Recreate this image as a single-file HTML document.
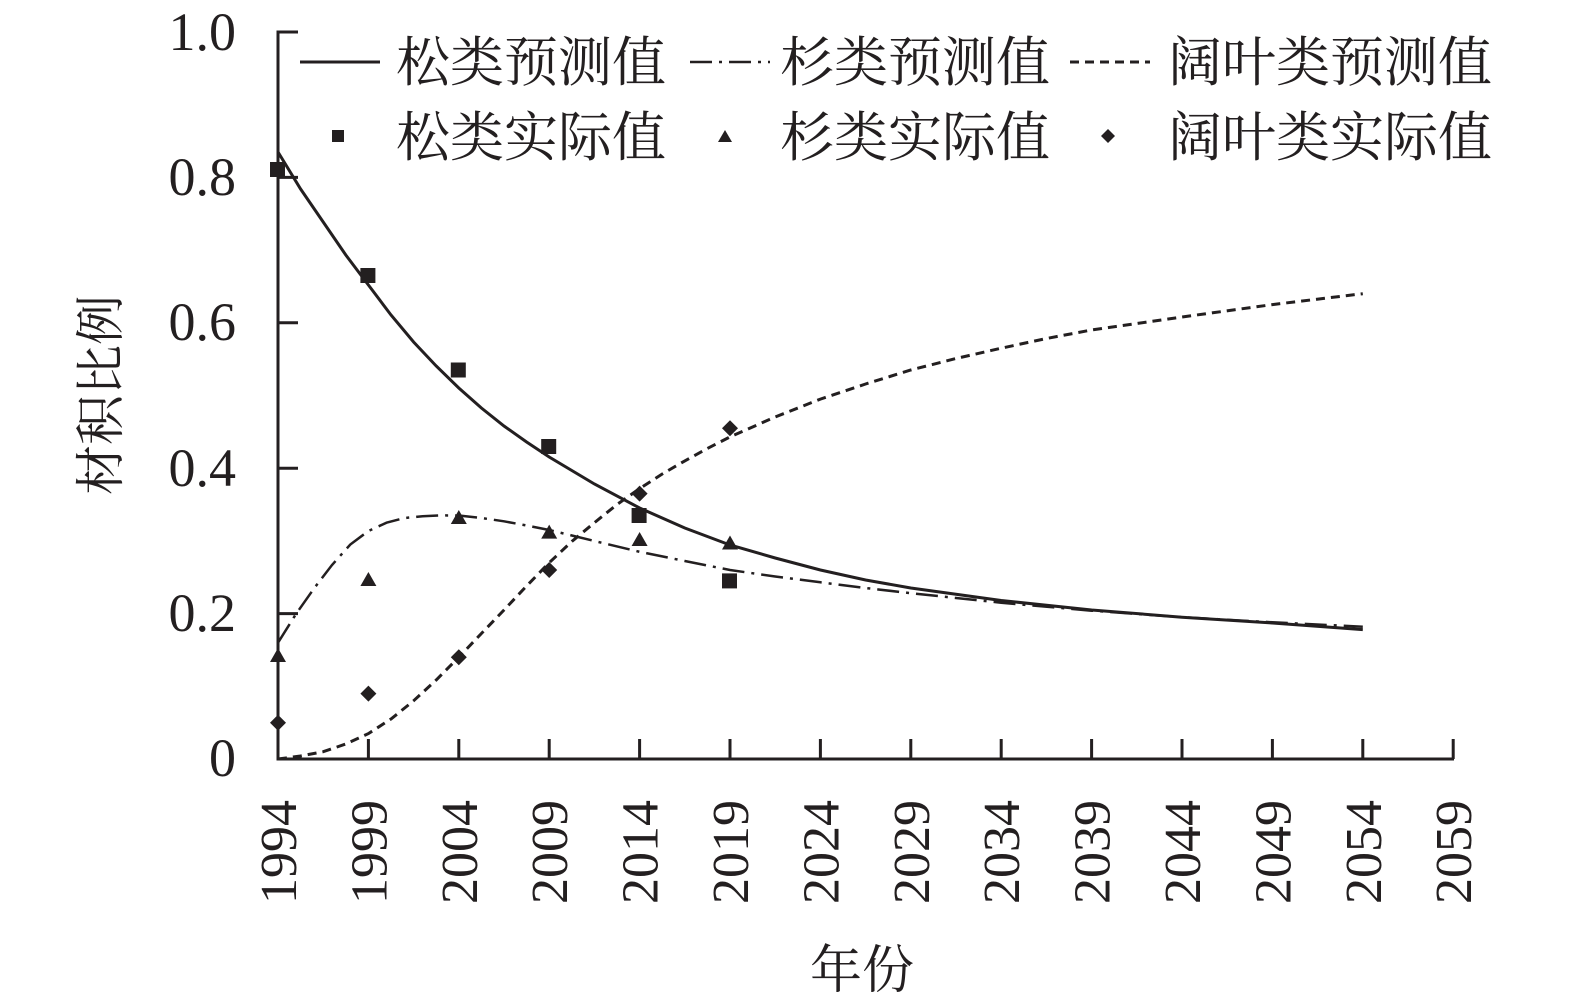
<!DOCTYPE html>
<html><head><meta charset="utf-8"><style>
html,body{margin:0;padding:0;background:#fff;}
text{font-family:"Noto Serif CJK SC",serif;fill:#231f20;}
text.n, .n text{font-family:"Liberation Serif",serif;}
</style></head><body>
<svg width="1575" height="1003" viewBox="0 0 1575 1003" xmlns="http://www.w3.org/2000/svg">
<g stroke="#231f20" stroke-width="3" fill="none">
<path d="M298,32 H278 V759 H1454"/>
<path d="M278,613.6 H298 M278,468.2 H298 M278,322.8 H298 M278,177.4 H298"/>
<path d="M368.4,759 V739 M458.8,759 V739 M549.2,759 V739 M639.6,759 V739 M730,759 V739 M820.4,759 V739 M910.8,759 V739 M1001.2,759 V739 M1091.6,759 V739 M1182,759 V739 M1272.4,759 V739 M1362.8,759 V739 M1453.2,759 V739"/>
</g>
<g class="n" font-size="54" text-anchor="end">
<text x="236" y="50">1.0</text><text x="236" y="195">0.8</text><text x="236" y="340">0.6</text><text x="236" y="486">0.4</text><text x="236" y="631">0.2</text><text x="236" y="776">0</text>
</g>
<g class="n" font-size="52" text-anchor="end">
<text transform="translate(296,800) rotate(-90)">1994</text>
<text transform="translate(386.4,800) rotate(-90)">1999</text>
<text transform="translate(476.8,800) rotate(-90)">2004</text>
<text transform="translate(567.2,800) rotate(-90)">2009</text>
<text transform="translate(657.6,800) rotate(-90)">2014</text>
<text transform="translate(748,800) rotate(-90)">2019</text>
<text transform="translate(838.4,800) rotate(-90)">2024</text>
<text transform="translate(928.8,800) rotate(-90)">2029</text>
<text transform="translate(1019.2,800) rotate(-90)">2034</text>
<text transform="translate(1109.6,800) rotate(-90)">2039</text>
<text transform="translate(1200,800) rotate(-90)">2044</text>
<text transform="translate(1290.4,800) rotate(-90)">2049</text>
<text transform="translate(1380.8,800) rotate(-90)">2054</text>
<text transform="translate(1471.2,800) rotate(-90)">2059</text>
</g>
<text x="862" y="988" font-size="52" text-anchor="middle">年份</text>
<text transform="translate(118,395) rotate(-90)" font-size="50" text-anchor="middle">材积比例</text>
<g fill="none" stroke="#231f20" stroke-width="3">
<polyline points="278,152 300.6,189 323.2,222 345.8,255 368.4,285 391,315 413.6,342 436.2,366 458.8,388 481.4,408 504,426 526.6,442 549.2,457 594.4,484 639.6,508 684.8,528 730,545 775.2,558 820.4,570 865.6,580 910.8,588 1001.2,600.5 1091.6,610 1182,617.2 1272.4,623 1362.8,629.6"/>
<polyline stroke-dasharray="22,7,3,7" stroke-width="2.5" points="278,642.7 296,614 314.2,588.2 332,565 350.3,544.5 368.4,531 386.5,522.7 404.5,518 422.6,516.2 440.7,515.4 458.8,515.5 481.4,518 504,521.3 526.6,525.5 549.2,530 594.4,541 639.6,551.8 684.8,561 730,570 775.2,576.5 820.4,582.3 865.6,588 910.8,593.2 1001.2,602.7 1091.6,610.7 1182,617.2 1272.4,622.3 1362.8,626.7"/>
<polyline stroke-dasharray="9,6" stroke-width="3" points="278,759 300.6,756 323.2,751.7 345.8,744 368.4,733.6 391,719 413.6,700.8 436.2,680 458.8,657.2 481.4,633.5 504,610 526.6,586 549.2,562.7 571.8,541.5 594.4,522.7 617,504.5 639.6,488.6 662.2,474 684.8,460.9 707.4,448.5 730,436.9 775.2,417 820.4,399.1 865.6,384 910.8,370 956,358.5 1001.2,348.2 1046.4,338.5 1091.6,330 1182,317 1272.4,304.6 1362.8,293.7"/>
<line x1="300" y1="62" x2="380" y2="62"/>
<line x1="690" y1="62" x2="770" y2="62" stroke-dasharray="22,7,3,7" stroke-width="2.5"/>
<line x1="1070" y1="62" x2="1150" y2="62" stroke-dasharray="9,6"/>
</g>
<g fill="#231f20">
<rect x="270" y="162" width="15" height="15"/><rect x="360.4" y="268" width="15" height="15"/><rect x="450.8" y="362.5" width="15" height="15"/><rect x="541.2" y="439" width="15" height="15"/><rect x="631.6" y="508" width="15" height="15"/><rect x="722" y="573.4" width="15" height="15"/>
<path d="M278,648 l8,14 h-16z M368.4,572 l8,14 h-16z M458.8,510 l8,14 h-16z M549.2,524.6 l8,14 h-16z M639.6,532 l8,14 h-16z M730,535.5 l8,14 h-16z"/>
<path d="M278,714.7 l8,8 l-8,8 l-8,-8z M368.4,685.6 l8,8 l-8,8 l-8,-8z M458.8,649.2 l8,8 l-8,8 l-8,-8z M549.2,562 l8,8 l-8,8 l-8,-8z M639.6,485.6 l8,8 l-8,8 l-8,-8z M730,420.2 l8,8 l-8,8 l-8,-8z"/>
<rect x="332" y="130" width="12" height="12"/>
<path d="M725,130 l7,12 h-14z"/>
<path d="M1108,129 l7,7 l-7,7 l-7,-7z"/>
</g>
<g font-size="54">
<text x="396" y="81">松类预测值</text>
<text x="780" y="81">杉类预测值</text>
<text x="1168" y="81">阔叶类预测值</text>
<text x="396" y="156">松类实际值</text>
<text x="780" y="156">杉类实际值</text>
<text x="1168" y="156">阔叶类实际值</text>
</g>
</svg>
</body></html>
